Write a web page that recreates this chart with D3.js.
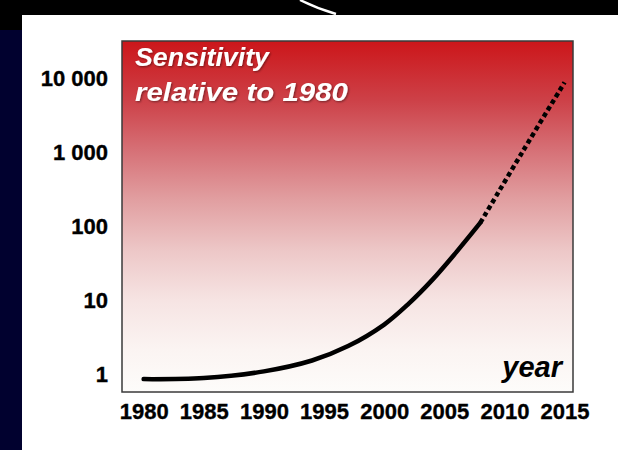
<!DOCTYPE html>
<html>
<head>
<meta charset="utf-8">
<script src="https://cdn.jsdelivr.net/npm/d3@7/dist/d3.min.js"></script>
<style>
  html, body { margin: 0; padding: 0; background: #ffffff; }
  svg { display: block; }
  text { font-family: "Liberation Sans", Arial, Helvetica, sans-serif; }
</style>
</head>
<body>
<script>
// Measured sensitivity (solid) and projected sensitivity (dotted), relative to 1980
const measuredYears  = [1980, 1985, 1990, 1994, 1997, 2000, 2002, 2004, 2006, 2008];
const measuredValues = [0.84, 0.87, 1.07, 1.5, 2.35, 4.6, 8.7, 18.5, 44, 110];
const projectedYears  = [2008, 2011.5, 2015];
const projectedValues = [110, 1000, 8700];

const yTicks = [1, 10, 100, 1000, 10000];
const yTickLabels = ["1", "10", "100", "1 000", "10 000"];
const xTicks = [1980, 1985, 1990, 1995, 2000, 2005, 2010, 2015];

const W = 618, H = 450;
const plot = { left: 122, right: 573, top: 41, bottom: 392 };

const svg = d3.select("body").append("svg")
  .attr("width", W).attr("height", H);

// Slide frame: black header band, navy strip on the left
svg.append("rect").attr("x", 0).attr("y", 0).attr("width", W).attr("height", 15).attr("fill", "#000");
svg.append("rect").attr("x", 0).attr("y", 0).attr("width", 22).attr("height", 30).attr("fill", "#000");
svg.append("rect").attr("x", 0).attr("y", 30).attr("width", 22).attr("height", H - 30).attr("fill", "#01012f");
svg.append("path").attr("d", "M300,0 Q318,9 336,14")
  .attr("fill", "none").attr("stroke", "#fff").attr("stroke-width", 2.5);

const x = d3.scaleLinear().domain([1978.2, 2015.7]).range([plot.left, plot.right]);
const y = d3.scaleLog().domain([Math.pow(10, -0.25), Math.pow(10, 4.5)]).range([plot.bottom, plot.top]);

// Background gradient of the plot area
const defs = svg.append("defs");
const grad = defs.append("linearGradient").attr("id", "bg").attr("x1", 0).attr("y1", 0).attr("x2", 0).attr("y2", 1);
[[0, "rgb(204,22,26)"], [0.17, "rgb(205,65,72)"], [0.31, "rgb(214,112,118)"], [0.45, "rgb(225,158,160)"],
 [0.60, "rgb(237,200,200)"], [0.74, "rgb(246,228,227)"], [0.88, "rgb(251,244,242)"], [1, "rgb(253,252,250)"]]
  .forEach(([o, c]) => grad.append("stop").attr("offset", o).attr("stop-color", c));

const shadow = defs.append("filter").attr("id", "ts").attr("x", "-10%").attr("y", "-10%").attr("width", "130%").attr("height", "140%");
shadow.append("feDropShadow").attr("dx", 1).attr("dy", 1).attr("stdDeviation", 0.8).attr("flood-color", "#000").attr("flood-opacity", 0.45);

svg.append("rect")
  .attr("x", plot.left).attr("y", plot.top)
  .attr("width", plot.right - plot.left).attr("height", plot.bottom - plot.top)
  .attr("fill", "url(#bg)");

// Sensitivity curve
const line = d3.line()
  .x(d => x(d[0])).y(d => y(d[1]))
  .curve(d3.curveCatmullRom.alpha(0.5));

svg.append("path")
  .datum(d3.zip(measuredYears, measuredValues))
  .attr("d", line)
  .attr("fill", "none").attr("stroke", "#000").attr("stroke-width", 4.5)
  .attr("stroke-linecap", "round");

svg.append("path")
  .datum(d3.zip(projectedYears, projectedValues))
  .attr("d", line)
  .attr("fill", "none").attr("stroke", "#000").attr("stroke-width", 4.5)
  .attr("stroke-dasharray", "4.5,3.2");

// Frame
svg.append("rect")
  .attr("x", plot.left).attr("y", plot.top)
  .attr("width", plot.right - plot.left).attr("height", plot.bottom - plot.top)
  .attr("fill", "none").attr("stroke", "#3a3a3a").attr("stroke-width", 1.5);

// Axes
const labelStyle = sel => sel
  .attr("font-size", 22).attr("font-weight", "bold").attr("fill", "#000")
  .attr("stroke", "#000").attr("stroke-width", 0.35)
  .attr("font-family", "'Liberation Sans', Arial, sans-serif");

const yAxis = d3.axisLeft(y).tickValues(yTicks)
  .tickFormat((d, i) => yTickLabels[i]).tickSize(0).tickPadding(14);
const gy = svg.append("g").attr("transform", `translate(${plot.left},0)`).call(yAxis);
gy.select(".domain").remove();
gy.selectAll("text").call(labelStyle).attr("dy", "0.34em");

const xAxis = d3.axisBottom(x).tickValues(xTicks).tickFormat(d3.format("d")).tickSize(0).tickPadding(11);
const gx = svg.append("g").attr("transform", `translate(0,${plot.bottom})`).call(xAxis);
gx.select(".domain").remove();
gx.selectAll("text").call(labelStyle);

// Titles inside the plot
const title = svg.append("g").attr("filter", "url(#ts)");
title.append("text").attr("x", 135).attr("y", 66)
  .attr("font-size", 25).attr("font-weight", "bold").attr("font-style", "italic").attr("fill", "#fff")
  .attr("textLength", 134).attr("lengthAdjust", "spacingAndGlyphs")
  .text("Sensitivity");
title.append("text").attr("x", 135).attr("y", 101)
  .attr("font-size", 25).attr("font-weight", "bold").attr("font-style", "italic").attr("fill", "#fff")
  .attr("textLength", 213).attr("lengthAdjust", "spacingAndGlyphs")
  .text("relative to 1980");

svg.append("text").attr("x", 562).attr("y", 377).attr("text-anchor", "end")
  .attr("font-size", 29).attr("font-weight", "bold").attr("font-style", "italic").attr("fill", "#000")
  .text("year");
</script>
</body>
</html>
